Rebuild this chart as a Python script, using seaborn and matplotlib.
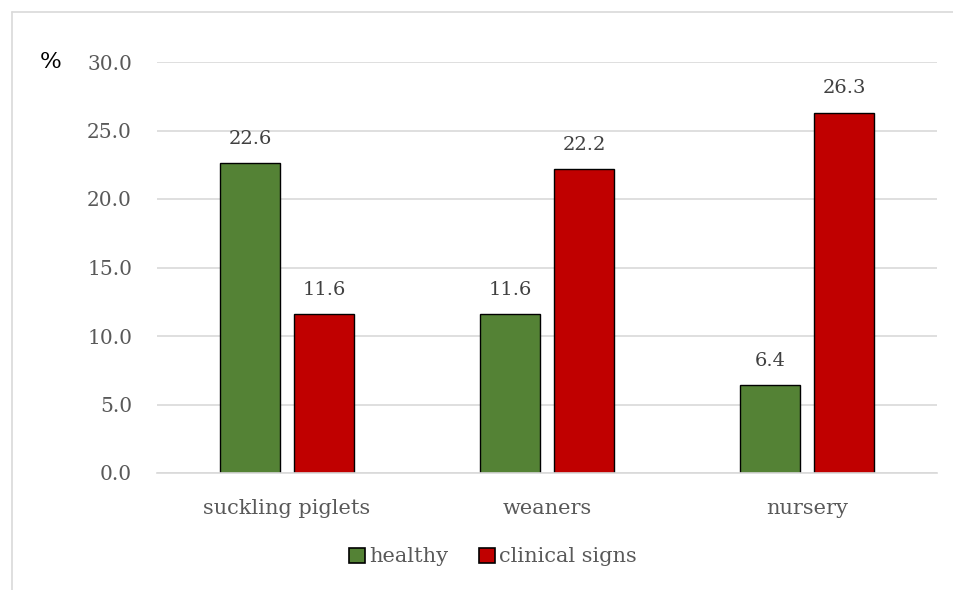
import matplotlib
matplotlib.use("Agg")
import matplotlib.pyplot as plt
import matplotlib.patches as mpatches
import seaborn as sns
import pandas as pd

# Share of pigs per age group
categories = ["suckling piglets", "weaners", "nursery"]
groups = ["healthy", "clinical signs"]
healthy = [22.6, 11.6, 6.4]
clinical_signs = [11.6, 22.2, 26.3]
y_ticks = [0, 5, 10, 15, 20, 25, 30]

colors = {"healthy": "#548235", "clinical signs": "#C00000"}

df = pd.DataFrame({
    "category": categories * 2,
    "group": [groups[0]] * 3 + [groups[1]] * 3,
    "value": healthy + clinical_signs,
})

sns.set_theme(style="white")
plt.rcParams["font.family"] = ["DejaVu Serif"]

fig = plt.figure(figsize=(9.54, 5.90), dpi=100)
ax = fig.add_axes([157 / 954, 1 - 473 / 590, 780 / 954, 411 / 590])

sns.barplot(data=df, x="category", y="value", hue="group", order=categories,
            hue_order=groups, palette=colors, width=0.569, gap=0.2,
            edgecolor="black", linewidth=1.0, saturation=1, ax=ax, legend=False)

for cont in ax.containers:
    ax.bar_label(cont, fmt="%.1f", padding=11, fontsize=14, color="#404040")

ax.set_ylim(0, 30)
ax.set_xlim(-0.5, 2.5)
ax.set_yticks(y_ticks)
ax.set_yticklabels([f"{t:.1f}" for t in y_ticks])
ax.yaxis.grid(True, color="#D9D9D9", linewidth=1.2)
ax.set_axisbelow(True)
for s in ["left", "right", "top"]:
    ax.spines[s].set_visible(False)
ax.spines["bottom"].set_color("#D9D9D9")
ax.spines["bottom"].set_linewidth(1.2)
ax.tick_params(axis="y", length=0, pad=18, labelsize=14.5, labelcolor="#595959")
ax.tick_params(axis="x", length=0, pad=19, labelsize=15, labelcolor="#595959")
ax.set_xlabel("")
ax.set_ylabel("")

fig.text(40 / 954, 1 - 62 / 590, "%", fontsize=16.5, color="black",
         ha="left", va="center")

handles = [mpatches.Patch(facecolor=colors[g], edgecolor="black", linewidth=1.2, label=g)
           for g in groups]
leg = fig.legend(handles=handles, loc="center", bbox_to_anchor=(493 / 954, 1 - 557 / 590),
                 ncol=2, frameon=False, fontsize=15, handlelength=0.75, handleheight=0.75,
                 handletextpad=0.2, columnspacing=1.5)
for t in leg.get_texts():
    t.set_color("#595959")

# outer chart frame
fig.add_artist(plt.Line2D([12 / 954, 12 / 954], [0, 1 - 12 / 590], transform=fig.transFigure,
                          color="#D9D9D9", linewidth=1.2))
fig.add_artist(plt.Line2D([12 / 954, 1], [1 - 12 / 590, 1 - 12 / 590], transform=fig.transFigure,
                          color="#D9D9D9", linewidth=1.2))

fig.savefig("out.png", dpi=100, facecolor="white")
